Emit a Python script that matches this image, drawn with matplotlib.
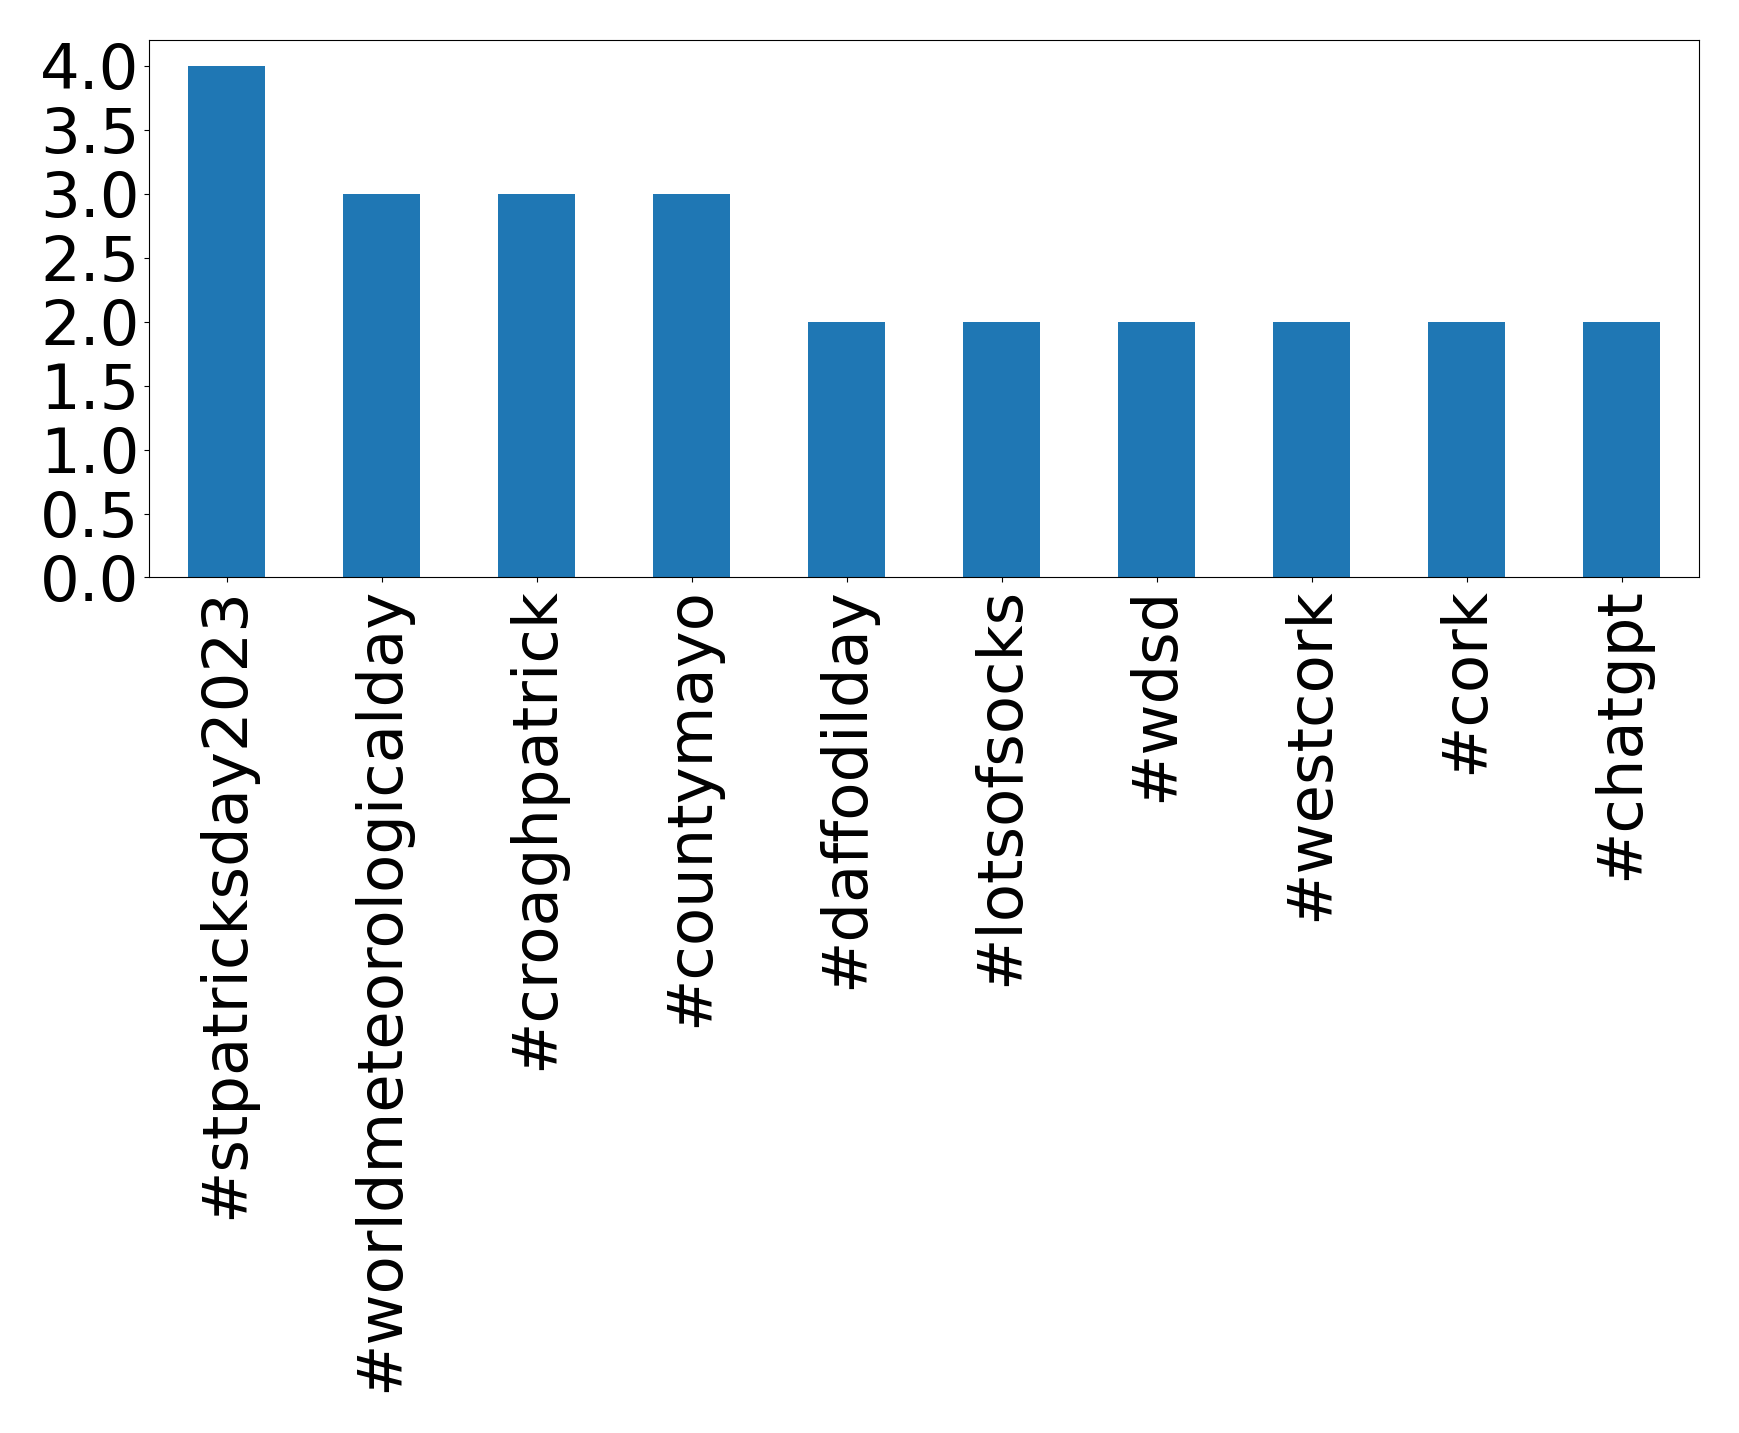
import matplotlib
matplotlib.use('Agg')
import matplotlib.pyplot as plt
import pandas as pd

hashtags = ['#stpatricksday2023', '#worldmeteorologicalday', '#croaghpatrick',
            '#countymayo', '#daffodilday', '#lotsofsocks', '#wdsd',
            '#westcork', '#cork', '#chatgpt']
counts = [4, 3, 3, 3, 2, 2, 2, 2, 2, 2]

serie = pd.Series(counts, index=hashtags)

fig, ax = plt.subplots(figsize=(17.39, 14.33), dpi=100)
serie.plot(kind='bar', ax=ax, fontsize=45)
plt.subplots_adjust(left=0.0857, right=0.977, top=0.972, bottom=0.597)
plt.savefig('out.png', dpi=100)
